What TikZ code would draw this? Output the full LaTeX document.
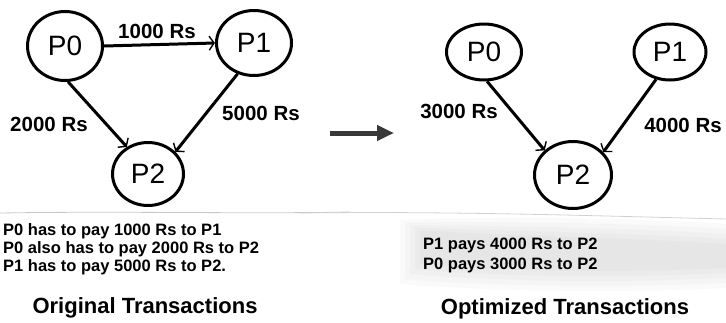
\documentclass[tikz,border=0pt]{standalone}
\usepackage{fontspec}
\setmainfont{Liberation Sans}
\usetikzlibrary{shapes.geometric,arrows.meta}

\tikzset{
  party/.style={draw, ellipse, line width=3pt, inner sep=0pt,
    font=\fontsize{28}{30}\selectfont},
  pays/.style={line width=3pt,
    -{Straight Barb[length=5pt,width=14pt,line width=1.4pt]}},
  amount/.style={font=\bfseries\fontsize{20.5}{22}\selectfont, inner sep=0pt},
  notes/.style={align=left, inner sep=0pt, anchor=north west,
    font=\bfseries\fontsize{16.5}{18}\selectfont},
  caption/.style={font=\bfseries\fontsize{22}{24}\selectfont, inner sep=0pt, anchor=base},
  bigarrow/.style={line width=5pt, draw=black!78,
    -{Triangle[length=17pt,width=15pt]}},
  smudge/.style={fill=black, opacity=0.018}
}

\begin{document}
\begin{tikzpicture}[x=1pt,y=-1pt]
\useasboundingbox (0,0) rectangle (726,322);

% faint fold of the paper and a soft greyish patch under it
\foreach \d in {0,5,10,15,20}{
  \fill[smudge] (400+\d,220+\d/2) .. controls (500,216+\d) and (640,218+\d) .. (726,224+\d)
    -- (726,288-\d) .. controls (600,294-\d) and (470,290-\d) .. (400+\d,284-\d) -- cycle;
}
\draw[black!22, line width=0.8pt] (0,213) .. controls (120,211) and (250,214) .. (350,212);
\draw[black!18, line width=0.8pt] (300,213) .. controls (450,211) and (600,216) .. (726,219);

% ---------- original transactions ----------
\node[party, minimum width=75pt, minimum height=69pt] (a0) at (65,46) {P0};
\node[party, minimum width=75pt, minimum height=65pt] (a1) at (254,43) {P1};
\node[party, minimum width=71pt, minimum height=63pt] (a2) at (148,174) {P2};

\draw[pays] (a0.east) -- (a1.west);
\draw[pays] (a0.-85) -- (a2.128);
\draw[pays] (a1.-118) -- (a2.39);

\node[amount] (r01) at (157,31) {1000 Rs};
\node[amount] (r02) at (49,124) {2000 Rs};
\node[amount] (r12) at (261,113) {5000 Rs};

\node[notes] (listA) at (3,223) {P0 has to pay 1000 Rs to P1\\
P0 also has to pay 2000 Rs to P2\\
P1 has to pay 5000 Rs to P2.};
\node[caption] (capA) at (145,313) {Original Transactions};

% ---------- arrow between the two graphs ----------
\coordinate (gapS) at (330,133);
\coordinate (gapE) at (394,133);
\draw[bigarrow] (gapS) -- (gapE);

% ---------- optimized transactions ----------
\node[party, minimum width=75pt, minimum height=56pt] (b0) at (484,52) {P0};
\node[party, minimum width=72pt, minimum height=56pt] (b1) at (670,52) {P1};
\node[party, minimum width=77pt, minimum height=67pt] (b2) at (573,175) {P2};

\draw[pays] (b0.-84) -- (b2.139);
\draw[pays] (b1.-117) -- (b2.37);

\node[amount] (s02) at (459,111) {3000 Rs};
\node[amount] (s12) at (683,125) {4000 Rs};

\node[notes, font=\bfseries\fontsize{16.5}{20}\selectfont] (listB) at (423,238)
  {P1 pays 4000 Rs to P2\\
P0 pays 3000 Rs to P2};
\node[caption] (capB) at (565,314) {Optimized Transactions};
\end{tikzpicture}
\end{document}
